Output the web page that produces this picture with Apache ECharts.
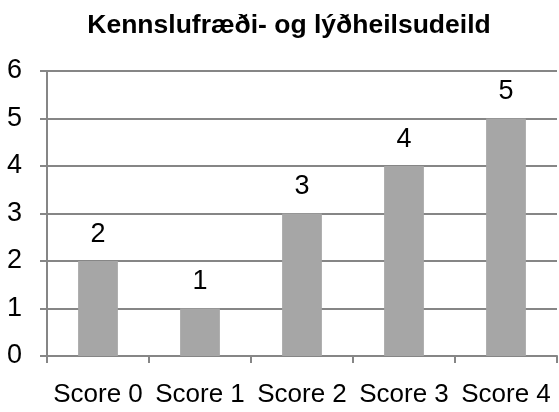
<!DOCTYPE html>
<html>
<head>
<meta charset="utf-8">
<script src="https://cdn.jsdelivr.net/npm/echarts@6/dist/echarts.min.js"></script>
<style>html,body{margin:0;padding:0;background:#fff}#c{width:559px;height:412px}</style>
</head>
<body>
<div id="c"></div>
<script>
const title = 'Kennslufræði- og lýðheilsudeild';
const categories = ['Score 0', 'Score 1', 'Score 2', 'Score 3', 'Score 4'];
const values = [2, 1, 3, 4, 5];
const yMin = 0, yMax = 6, yInterval = 1;

const chart = echarts.init(document.getElementById('c'), null, {renderer: 'canvas'});
const font = '"Liberation Sans", Arial, sans-serif';
chart.setOption({
  animation: false,
  backgroundColor: '#fff',
  title: {
    text: title,
    left: 284, top: 7, textAlign: 'center',
    textStyle: {fontFamily: font, fontSize: 26.5, fontWeight: 'bold', color: '#000'}
  },
  grid: {left: 47, right: 2, top: 71, bottom: 56, containLabel: false},
  xAxis: {
    type: 'category', data: categories,
    axisLine: {lineStyle: {color: '#868686', width: 2}},
    axisTick: {show: true, length: 7, lineStyle: {color: '#868686', width: 2}},
    axisLabel: {color: '#000', fontFamily: font, fontSize: 26, margin: 26, interval: 0}
  },
  yAxis: {
    type: 'value', min: yMin, max: yMax, interval: yInterval,
    axisLine: {show: true, lineStyle: {color: '#868686', width: 2}},
    axisTick: {show: true, length: 7, lineStyle: {color: '#868686', width: 2}},
    splitLine: {lineStyle: {color: '#868686', width: 2}},
    axisLabel: {color: '#000', fontFamily: font, fontSize: 27, margin: 25}
  },
  series: [{
    type: 'bar', data: values, barWidth: '39%',
    itemStyle: {color: '#a6a6a6'},
    label: {show: true, position: 'top', distance: 13, color: '#000', fontFamily: font, fontSize: 27}
  }]
});
</script>
</body>
</html>
